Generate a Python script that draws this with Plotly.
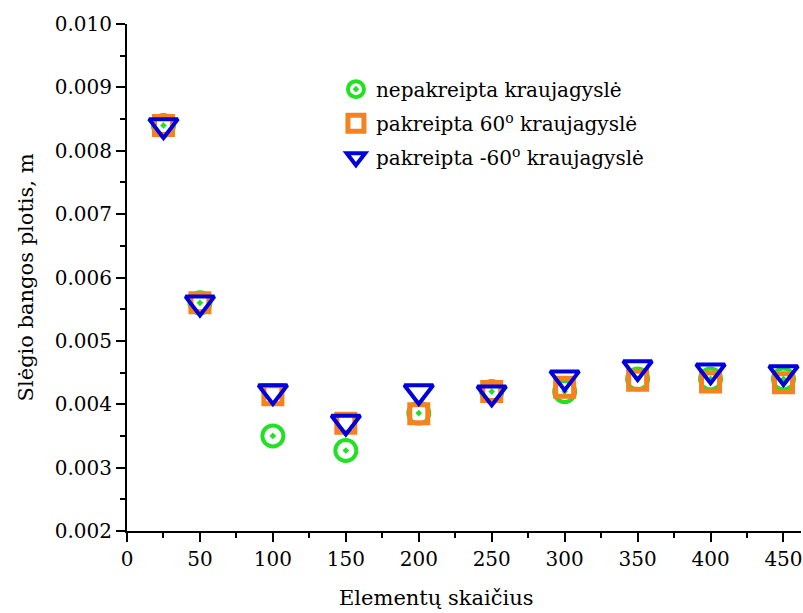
import plotly.graph_objects as go

elements = [25, 50, 100, 150, 200, 250, 300, 350, 400, 450]
nepakreipta = [0.0084, 0.0056, 0.0035, 0.00327, 0.00386, 0.0042, 0.0042, 0.0044, 0.0044, 0.0044]
pakreipta_60 = [0.0084, 0.0056, 0.00415, 0.0037, 0.00385, 0.0042, 0.00427, 0.00438, 0.00435, 0.00434]
pakreipta_m60 = [0.0084, 0.0056, 0.0042, 0.00372, 0.0042, 0.00418, 0.00442, 0.00458, 0.00453, 0.0045]

names = ["nepakreipta kraujagyslė",
         "pakreipta 60<sup>o</sup> kraujagyslė",
         "pakreipta -60<sup>o</sup> kraujagyslė"]

FONT = "DejaVu Serif"

fig = go.Figure()
fig.add_trace(go.Scatter(x=elements, y=nepakreipta, mode="markers", name=names[0], legendgroup="a",
                         marker=dict(symbol="circle-open-dot", size=21, color="#22e022",
                                     line=dict(width=4, color="#22e022"))))
fig.add_trace(go.Scatter(x=elements, y=pakreipta_60, mode="markers", name=names[1], legendgroup="b",
                         marker=dict(symbol="square-open", size=18, color="#f5821f",
                                     line=dict(width=5, color="#f5821f"))))
fig.add_trace(go.Scatter(x=elements, y=pakreipta_m60, mode="markers", name=names[2], legendgroup="c",
                         marker=dict(symbol="triangle-down-open", size=25, color="#0000dd",
                                     line=dict(width=4, color="#0000dd"))))

fig.update_layout(
    width=803, height=613,
    margin=dict(l=127, r=0, t=24, b=82),
    paper_bgcolor="white", plot_bgcolor="white",
    font=dict(family=FONT, size=20, color="black"),
    showlegend=True,
    legend=dict(x=0.31, y=0.91, xanchor="left", yanchor="top", bgcolor="rgba(0,0,0,0)",
                font=dict(family=FONT, size=20), tracegroupgap=5, itemsizing="trace"),
    xaxis=dict(range=[0, 462], tickmode="linear", tick0=0, dtick=50,
               showline=True, linewidth=2, linecolor="black", mirror=False,
               ticks="outside", ticklen=9, tickwidth=2, tickcolor="black",
               minor=dict(ticks="outside", ticklen=5, tickwidth=2, tickcolor="black", dtick=25, tick0=0),
               showgrid=False, zeroline=False, ticklabeloverflow="allow",
               tickfont=dict(family=FONT, size=20)),
    yaxis=dict(range=[0.002, 0.010], tickmode="linear", tick0=0.002, dtick=0.001, tickformat=".3f",
               showline=True, linewidth=2, linecolor="black", mirror=False,
               ticks="outside", ticklen=9, tickwidth=2, tickcolor="black",
               minor=dict(ticks="outside", ticklen=5, tickwidth=2, tickcolor="black", dtick=0.0005),
               showgrid=False, zeroline=False, ticklabeloverflow="allow",
               tickfont=dict(family=FONT, size=20)),
    annotations=[
        dict(text="Elementų skaičius", xref="paper", yref="paper", x=(437 - 127) / 676, y=-0.132,
             xanchor="center", yanchor="middle", showarrow=False, font=dict(family=FONT, size=21)),
        dict(text="Slėgio bangos plotis, m", xref="paper", yref="paper", x=-0.15, y=0.5,
             xanchor="center", yanchor="middle", textangle=-90, showarrow=False,
             font=dict(family=FONT, size=21)),
    ],
)

fig.write_html("out.html")
